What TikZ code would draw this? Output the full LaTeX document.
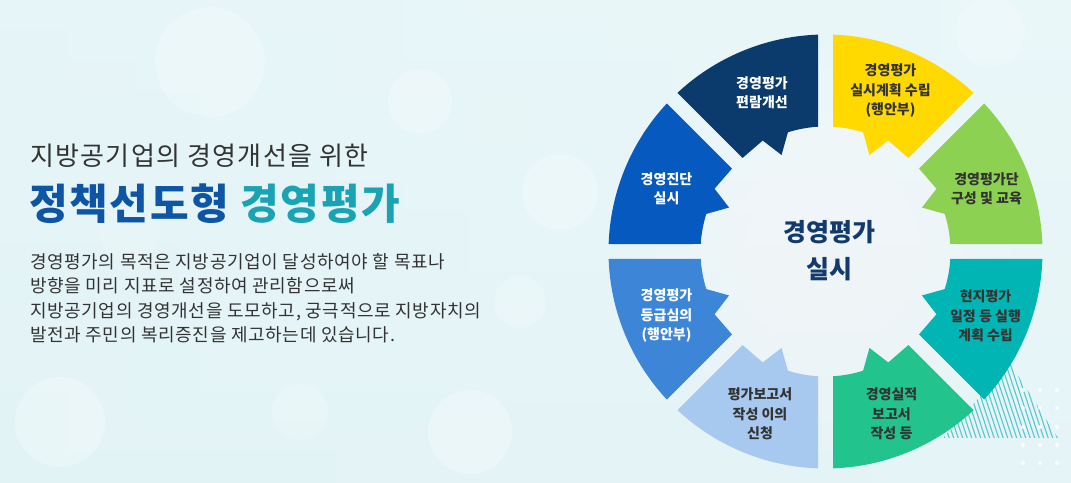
\documentclass[tikz,border=0pt]{standalone}
\usepackage{fontspec}
\newfontfamily\kr{Noto Sans CJK KR}
\newfontfamily\krwide{Noto Sans CJK KR}[LetterSpace=5]
\newfontfamily\krbody{Noto Sans CJK KR}[LetterSpace=3.5]
\newfontfamily\krheavy{Noto Sans CJK KR}[LetterSpace=4]
\definecolor{bgA}{HTML}{E2F3F6}
\definecolor{bgB}{HTML}{EAF7F9}
\definecolor{cNavy}{HTML}{0B3A6C}
\definecolor{cYellow}{HTML}{FFD900}
\definecolor{cGreen}{HTML}{8CD152}
\definecolor{cTeal}{HTML}{00B5B3}
\definecolor{cEmerald}{HTML}{22C38C}
\definecolor{cLight}{HTML}{A8C9EF}
\definecolor{cMid}{HTML}{3D86D7}
\definecolor{cBlue}{HTML}{0559BF}
\definecolor{tBlue}{HTML}{0E56A5}
\definecolor{tTeal}{HTML}{19A3B3}
\definecolor{tGray}{HTML}{333333}
\definecolor{tCenter}{HTML}{123A6C}
\definecolor{stripe}{HTML}{58C6CC}
\newcommand{\segpath}[2]{%
  ({#1+(#2)*3.44}:125) -- ({#1+(#2)*1.98}:217)
  arc[start angle={#1+(#2)*1.98}, end angle={#1+(#2)*43.02}, radius=217]
  -- ({#1+(#2)*41.56}:125) -- ({#1+(#2)*29.5}:127.5)
  -- ({#1+(#2)*24.5}:106) -- ({#1+(#2)*17.5}:125)
  arc[start angle={#1+(#2)*17.5}, end angle={#1+(#2)*3.44}, radius=125] -- cycle}
\begin{document}
\begin{tikzpicture}[x=1pt,y=1pt,
  segtext/.style={align=center, font=\kr\bfseries\fontsize{14}{19.5}\selectfont, inner sep=0pt},
  dark/.style={text=tGray},
  light/.style={text=white},
  lefttext/.style={anchor=base west, inner sep=0pt, text=tGray, font=\krbody\fontsize{18}{24}\selectfont}]
\useasboundingbox (0,0) rectangle (1071,482);
% background
\shade[left color=bgA, right color=bgB] (0,0) rectangle (1071,482);
\shade[top color=bgB, bottom color=bgA, opacity=0.5] (0,0) rectangle (1071,482);
\foreach \x/\y/\r/\o in {60/60/45/0.25, 210/420/55/0.2, 420/380/32/0.25, 560/290/38/0.2, 470/50/42/0.25, 300/70/28/0.2, 130/250/30/0.15, 990/450/35/0.2, 520/180/26/0.2}
  \fill[white, opacity=\o] (\x,\y) circle (\r);
\foreach \r in {200,185,...,80}
  \fill[white, opacity=0.06] (825.5,230.5) circle (\r);
% stripes
\begin{scope}
  \clip (1010,119) -- (1058,44) -- (943,44) -- cycle;
  \foreach \x in {900,904.5,...,1070}
    \draw[stripe, line width=1.1pt] (\x,125) -- (\x+28,40);
\end{scope}
\foreach \x in {1023,1040,1057}
  \foreach \y in {92,74,55,37,19}
    \fill[white, opacity=0.85] (\x,\y) circle (2);
% sectors
\begin{scope}[shift={(825.5,230.5)}]
  \fill[cGreen] \segpath{0}{1};
  \fill[cYellow] \segpath{90}{-1};
  \fill[cNavy] \segpath{90}{1};
  \fill[cBlue] \segpath{180}{-1};
  \fill[cMid] \segpath{180}{1};
  \fill[cLight] \segpath{270}{-1};
  \fill[cEmerald] \segpath{270}{1};
  \fill[cTeal] \segpath{360}{-1};
\end{scope}
% segment labels
\node[segtext, light] (navy) at (762,389.5) {경영평가\\편람개선};
\node[segtext, dark] (yellow) at (890.5,391) {경영평가\\실시계획 수립\\(행안부)};
\node[segtext, dark] (green) at (986.5,293) {경영평가단\\구성 및 교육};
\node[segtext, dark] (teal) at (985.5,166) {현지평가\\일정 등 실행\\계획 수립};
\node[segtext, dark] (emerald) at (891.5,68) {경영실적\\보고서\\작성 등};
\node[segtext, dark] (lightblue) at (760,68) {평가보고서\\작성 이의\\신청};
\node[segtext, light] (midblue) at (666.5,166) {경영평가\\등급심의\\(행안부)};
\node[segtext, light] (blue) at (666.5,293) {경영진단\\실시};
\node[align=center, inner sep=0pt, text=tCenter, font=\kr\bfseries\fontsize{25}{37}\selectfont] (center) at (829,231) {경영평가\\실시};
% left text
\node[anchor=base west, inner sep=0pt, text=tGray, font=\krwide\fontsize{26}{30}\selectfont] (head1) at (30,316) {지방공기업의 경영개선을 위한};
\node[anchor=base west, inner sep=0pt, font=\krheavy\bfseries\fontsize{42}{46}\selectfont] (head2) at (29,262) {\textcolor{tBlue}{정책선도형} \textcolor{tTeal}{경영평가}};
\node[lefttext] (p1) at (30,213.5) {경영평가의 목적은 지방공기업이 달성하여야 할 목표나};
\node[lefttext] (p2) at (30,189.2) {방향을 미리 지표로 설정하여 관리함으로써};
\node[lefttext] (p3) at (30,164.9) {지방공기업의 경영개선을 도모하고, 궁극적으로 지방자치의};
\node[lefttext] (p4) at (30,140.6) {발전과 주민의 복리증진을 제고하는데 있습니다.};
\end{tikzpicture}
\end{document}
